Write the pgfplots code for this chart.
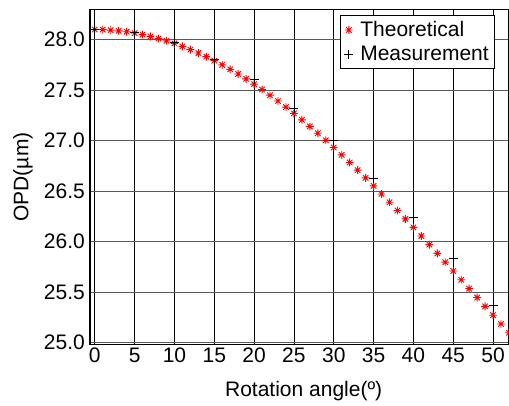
\documentclass[border=0pt]{standalone}
\usepackage{pgfplots}
\pgfplotsset{compat=1.18}
\usepackage{fontspec}
\setmainfont{Liberation Sans}
\pgfdeclareplotmark{ast8}{%
  \pgfpathmoveto{\pgfqpoint{-\pgfplotmarksize}{0pt}}%
  \pgfpathlineto{\pgfqpoint{\pgfplotmarksize}{0pt}}%
  \pgfpathmoveto{\pgfqpoint{0pt}{-\pgfplotmarksize}}%
  \pgfpathlineto{\pgfqpoint{0pt}{\pgfplotmarksize}}%
  \pgfpathmoveto{\pgfqpoint{-0.7\pgfplotmarksize}{-0.7\pgfplotmarksize}}%
  \pgfpathlineto{\pgfqpoint{0.7\pgfplotmarksize}{0.7\pgfplotmarksize}}%
  \pgfpathmoveto{\pgfqpoint{-0.7\pgfplotmarksize}{0.7\pgfplotmarksize}}%
  \pgfpathlineto{\pgfqpoint{0.7\pgfplotmarksize}{-0.7\pgfplotmarksize}}%
  \pgfusepathqstroke}
\pgfplotstableread{
x y
0 28.100
1 28.099
2 28.094
3 28.087
4 28.078
5 28.065
6 28.050
7 28.032
8 28.011
9 27.988
10 27.962
11 27.933
12 27.901
13 27.867
14 27.831
15 27.792
16 27.750
17 27.706
18 27.660
19 27.611
20 27.559
21 27.506
22 27.450
23 27.392
24 27.332
25 27.270
26 27.206
27 27.140
28 27.073
29 27.003
30 26.932
31 26.859
32 26.784
33 26.708
34 26.631
35 26.552
36 26.472
37 26.390
38 26.308
39 26.225
40 26.141
41 26.056
42 25.970
43 25.884
44 25.797
45 25.710
46 25.623
47 25.535
48 25.447
49 25.360
50 25.272
51 25.185
52 25.098
}\theo
\pgfplotstableread{
x y
0 28.10
5 28.07
10 27.975
15 27.80
20 27.61
25 27.32
30 27.00
35 26.63
40 26.245
45 25.83
50 25.37
}\meas
\begin{document}
\fontsize{21}{24}\selectfont
\begin{tikzpicture}
\useasboundingbox (-90pt,-60.3pt) rectangle (419pt,344.7pt);
\begin{axis}[
  at={(0pt,0pt)}, anchor=south west,
  scale only axis, width=419pt, height=335.4pt,
  xmin=-0.6, xmax=52, ymin=24.98, ymax=28.30,
  xtick={0,5,...,50}, ytick={25,25.5,...,28},
  major tick length=0pt,
  grid=major,
  x grid style={black, line width=0.8pt},
  y grid style={black!65, line width=1.1pt},
  axis line style={black, line width=1.2pt},
  /pgf/number format/assume math mode=true,
  every tick label/.append style={font=\fontsize{21}{24}\selectfont},
  y tick label style={/pgf/number format/fixed, /pgf/number format/fixed zerofill, /pgf/number format/precision=1},
  xticklabel style={inner sep=0pt, anchor=north, yshift=-3.3pt},
  yticklabel style={inner sep=0pt, anchor=east, xshift=-5pt},
  xlabel={Rotation angle(º)},
  ylabel={OPD(µm)},
  xlabel style={font=\fontsize{21}{24}\selectfont, at={(axis description cs:0.51,-0.1545)}, anchor=base},
  ylabel style={font=\fontsize{21}{24}\selectfont, at={(axis description cs:-0.16,0.5)}, anchor=center},
  legend style={at={(0.5967,0.983)}, anchor=north west, draw=black, fill=white, line width=0.6pt,
    font=\fontsize{21}{23}\selectfont, inner xsep=4pt, inner ysep=3.5pt, row sep=2.5pt, column sep=5pt},
  legend cell align=left,
  legend image code/.code={\draw[mark repeat=2,mark phase=2,#1] plot coordinates {(-4pt,0pt)(0pt,0pt)(4pt,0pt)};},
]
\addplot[only marks, mark=ast8, mark size=3.9pt, mark options={red, line width=0.9pt}] table[x=x,y=y] {\theo};
\addlegendentry{Theoretical}
\addplot[only marks, mark=+, mark size=4.5pt, mark options={black, line width=0.7pt}] table[x=x,y=y] {\meas};
\addlegendentry{Measurement}
\end{axis}
\end{tikzpicture}
\end{document}
